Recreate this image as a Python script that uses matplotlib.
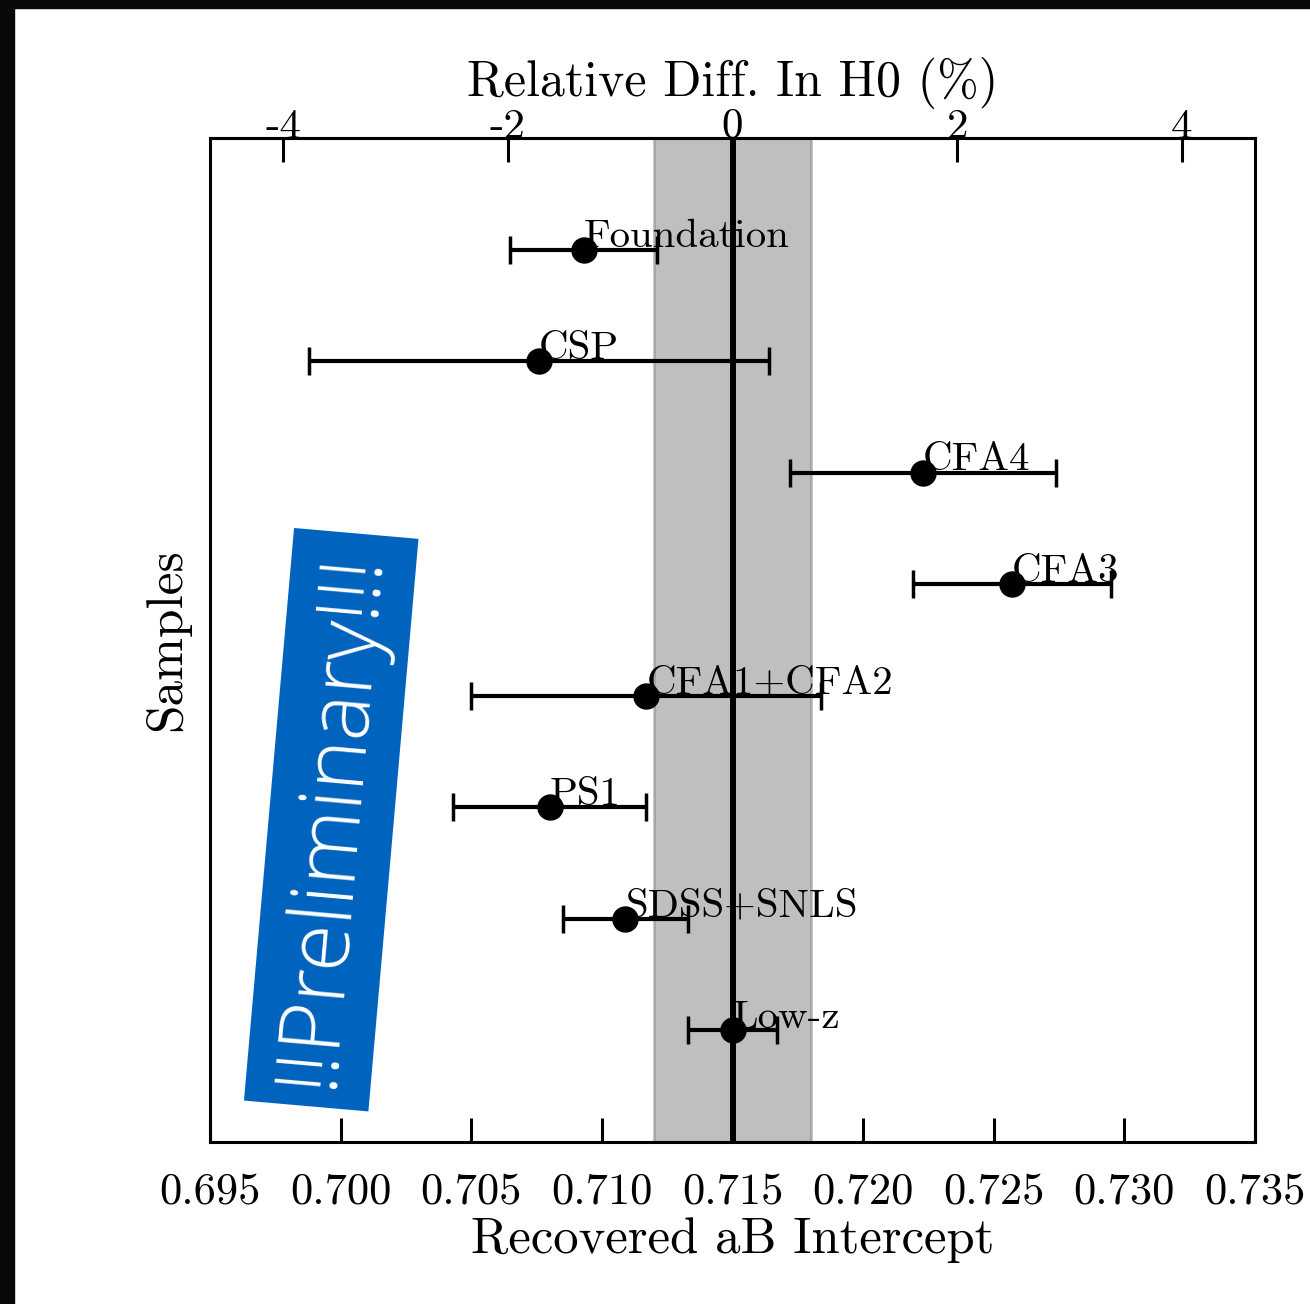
import numpy as np
import matplotlib
matplotlib.use('Agg')
import matplotlib.pyplot as plt
from matplotlib.patches import Rectangle

# samples, top to bottom
samples = ['Foundation', 'CSP', 'CFA4', 'CFA3', 'CFA1+CFA2', 'PS1', 'SDSS+SNLS', 'Low-z']
ab_values = [0.7093, 0.7076, 0.7223, 0.7257, 0.7117, 0.7080, 0.7109, 0.7150]
ab_errors = [0.0028, 0.0088, 0.0051, 0.0038, 0.0067, 0.0037, 0.0024, 0.0017]

ab_ref = 0.715          # reference intercept
ab_band = 0.003         # half width of grey band
ab_per_pct = 0.0043     # aB shift for 1% in H0

ab_ticks = [0.695, 0.700, 0.705, 0.710, 0.715, 0.720, 0.725, 0.730, 0.735]
pct_ticks = [-4, -2, 0, 2, 4]
pct_labels = ['-4', '-2', '0', '2', '4']

plt.rcParams['font.family'] = 'cmr10'
plt.rcParams['mathtext.fontset'] = 'cm'
plt.rcParams['axes.unicode_minus'] = False

fig = plt.figure(figsize=(13.1, 13.04), dpi=100)
ax = fig.add_axes([210/1310, 1 - 1142/1304, 1045/1310, 1004/1304])

ypos = np.arange(len(samples))[::-1]

ax.axvspan(ab_ref - ab_band, ab_ref + ab_band, color='grey', alpha=0.5, lw=2, zorder=1)
ax.axvline(ab_ref, color='black', lw=4.3, zorder=5)
ax.errorbar(ab_values, ypos, xerr=ab_errors, fmt='o', color='black', ms=18,
            elinewidth=3, capsize=10, capthick=2.5, zorder=4)
for name, x, y in zip(samples, ab_values, ypos):
    ax.text(x, y + 0.02, name, ha='left', va='baseline', fontsize=29.5, zorder=3)

ax.set_xlim(0.695, 0.735)
ax.set_ylim(-1, len(samples))
ax.set_yticks([])
ax.set_xticks(ab_ticks, labels=['%.3f' % t for t in ab_ticks])
ax.tick_params(axis='x', direction='in', length=17, width=2.2, pad=22, labelsize=32, top=False)
for sp in ax.spines.values():
    sp.set_linewidth(2.2)
ax.set_xlabel('Recovered aB Intercept', fontsize=36.5, labelpad=3)
ax.set_ylabel('Samples', fontsize=37, labelpad=14)

secax = ax.secondary_xaxis('top', functions=(lambda x: (x - ab_ref) / ab_per_pct,
                                             lambda p: p * ab_per_pct + ab_ref))
secax.set_xticks(pct_ticks, labels=pct_labels)
secax.tick_params(direction='in', length=17, width=2.2, pad=-6, labelsize=31)
secax.spines['top'].set_linewidth(2.2)
secax.set_xlabel('Relative Diff. In H0 (%)', fontsize=36, labelpad=9)

# preliminary stamp
ax.text(0.116, 0.321, '!!Preliminary!!!', transform=ax.transAxes, rotation=85,
        rotation_mode='anchor', ha='center', va='center', color='white',
        fontsize=62, family='Open Sans', fontweight='light', zorder=6,
        bbox=dict(boxstyle='square,pad=0.22', facecolor='#0063be', edgecolor='none'))

# dark frame strips at left and top
fig.add_artist(Rectangle((0, 0), 14/1310, 1, transform=fig.transFigure, color='#080808'))
fig.add_artist(Rectangle((0, 1 - 8/1304), 1, 8/1304, transform=fig.transFigure, color='#080808'))

fig.savefig('out.png', dpi=100, facecolor='white')
